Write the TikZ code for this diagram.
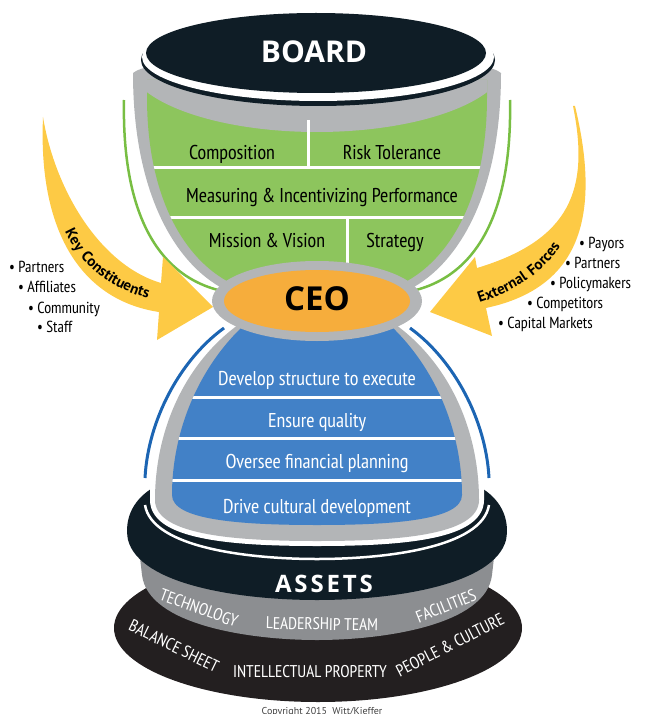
\documentclass[tikz,border=0pt]{standalone}
\usepackage{fontspec}
\setmainfont{PT Sans Narrow}
\newfontfamily\headfont{Open Sans}
\newfontfamily\assetsfont[LetterSpace=12]{Open Sans}
\newfontfamily\arrowfont[LetterSpace=10]{PT Sans}
\newfontfamily\notefont{PT Sans}
\usetikzlibrary{decorations.text}
\definecolor{navy}{HTML}{0F1D26}
\definecolor{baseblack}{HTML}{231F20}
\definecolor{bandgray}{HTML}{8C8E91}
\definecolor{cupgray}{HTML}{B3B5B7}
\definecolor{cupgreen}{HTML}{8DC55D}
\definecolor{cupblue}{HTML}{4281C7}
\definecolor{greenline}{HTML}{78BE43}
\definecolor{blueline}{HTML}{1C65B3}
\definecolor{ceoorange}{HTML}{F6AD3C}
\definecolor{arrowyellow}{HTML}{FDCA45}
\begin{document}
\begin{tikzpicture}[x=1pt, y=-1pt, inner sep=0pt,
   greenrow/.style={anchor=base, text=black, font=\fontsize{20}{22}\selectfont},
   bluerow/.style={anchor=base, text=white, font=\fontsize{20}{22}\selectfont},
   bulletitem/.style={anchor=base west, text=black, font=\fontsize{16}{18}\selectfont},
   assetitem/.style={text=white, font=\fontsize{17}{18}\selectfont},
   rowline/.style={white, line width=3pt},
   arrowtext/.style={decorate, decoration={text along path, text align=center,
     text={|\arrowfont\bfseries\fontsize{15}{15}\selectfont|#1}}}
   ]
   \useasboundingbox (0,0) rectangle (645,714);

   % thin outlines beside the cups
   \draw[greenline, line width=2.5pt] (124,100) .. controls (122,200) and (150,272) .. (218,290);
   \draw[greenline, line width=2.5pt] (510,100) .. controls (512,200) and (484,272) .. (416,290);
   \draw[blueline, line width=3pt] (224,328) .. controls (180,360) and (148,420) .. (145,478);
   \draw[blueline, line width=3pt] (410,328) .. controls (454,360) and (486,420) .. (489,478);

   % base
   \fill[baseblack] (318,628) ellipse (204 and 74);
   \fill[bandgray] (138,540) -- (142,575) .. controls (148,625) and (250,640) .. (317,640)
      .. controls (384,640) and (486,625) .. (492,575) -- (496,540) -- cycle;
   \fill[navy] (160,484) .. controls (132,497) and (124,520) .. (128,540)
      .. controls (140,585) and (240,600) .. (317,600) .. controls (394,600) and (494,585) .. (506,540)
      .. controls (510,520) and (502,497) .. (474,484) -- cycle;
   \draw[white, line width=2.5pt] (145,505) .. controls (152,548) and (250,559) .. (317,559)
      .. controls (384,559) and (482,548) .. (489,505);
   \draw[white, line width=10pt] (155,470) -- (155,500) .. controls (155,536) and (240,541) .. (317,541)
      .. controls (394,541) and (479,536) .. (479,500) -- (479,470);

   % lower cup
   \fill[cupgray] (245,320) .. controls (185,360) and (155,430) .. (155,500)
      .. controls (155,536) and (240,541) .. (317,541) .. controls (394,541) and (479,536) .. (479,500)
      .. controls (479,430) and (449,360) .. (389,320) -- cycle;
   \begin{scope}
     \clip (252,318) .. controls (200,362) and (172,430) .. (172,495)
        .. controls (172,520) and (240,525) .. (317,525) .. controls (394,525) and (462,520) .. (462,495)
        .. controls (462,430) and (434,362) .. (382,318) -- cycle;
     \fill[cupblue] (150,300) rectangle (490,540);
     \foreach \y in {397,438,480} \draw[rowline] (150,\y) -- (490,\y);
   \end{scope}
   \node[bluerow] (develop) at (317,385) {Develop structure to execute};
   \node[bluerow] (quality) at (317,427) {Ensure quality};
   \node[bluerow] (finance) at (317,468) {Oversee financial planning};
   \node[bluerow] (culture) at (317,513) {Drive cultural development};

   % upper cup
   \fill[cupgray] (133,73) .. controls (133,200) and (180,270) .. (230,292) -- (404,292)
      .. controls (454,270) and (501,200) .. (501,73) .. controls (476,50) and (158,50) .. (133,73) -- cycle;
   \begin{scope}
     \clip (147,80) -- (147,97) .. controls (147,205) and (190,265) .. (235,285) -- (399,285)
        .. controls (444,265) and (487,205) .. (487,97) -- (487,80) -- cycle;
     \fill[cupgreen] (140,60) rectangle (495,300);
     \fill[cupgray] (317,60) ellipse (190 and 72);
     \foreach \y in {168,217} \draw[rowline] (140,\y) -- (495,\y);
     \draw[rowline] (308,120) -- (308,168);
     \draw[rowline] (347,217) -- (347,300);
   \end{scope}
   \node[greenrow] (composition) at (232,160) {Composition};
   \node[greenrow] (risk) at (392,160) {Risk Tolerance};
   \node[greenrow] (measuring) at (322,202) {Measuring \& Incentivizing Performance};
   \node[greenrow] (mission) at (267,247) {Mission \& Vision};
   \node[greenrow] (strategy) at (395,247) {Strategy};

   % board
   \fill[navy] (318,60) ellipse (177 and 46);
   \fill[white] (318,57) ellipse (176 and 44);
   \fill[navy] (316,53) ellipse (170 and 40);
   \node[anchor=base, text=white, font=\headfont\bfseries\fontsize{30}{30}\selectfont] (board) at (314,63) {BOARD};

   % ceo
   \fill[cupgray] (317,301) ellipse (105 and 40);
   \fill[ceoorange] (317,301) ellipse (93 and 31);
   \node[anchor=base, text=black, font=\headfont\bfseries\fontsize{33}{33}\selectfont] (ceo) at (317,310) {CEO};

   % arrows
   \fill[arrowyellow] (43,117) .. controls (55,190) and (100,265) .. (161,283) -- (163,257) -- (213,307)
      -- (157,340) -- (159,312) .. controls (80,300) and (38,230) .. (43,117) -- cycle;
   \fill[arrowyellow] (573,106) .. controls (590,190) and (570,240) .. (477,268) -- (475,257) -- (430,312)
      -- (492,336) -- (486,308) .. controls (570,290) and (605,230) .. (575,106) -- cycle;
   \path[arrowtext={Key Constituents}] (56,205) .. controls (70,262) and (110,295) .. (175,304);
   \path[arrowtext={External Forces}] (452,310) .. controls (510,298) and (557,270) .. (572,220);

   % lists
   \node[bulletitem] (partnersl) at (9,272) {\textbullet\ Partners};
   \node[bulletitem] (affiliates) at (18,292) {\textbullet\ Affiliates};
   \node[bulletitem] (community) at (28,313) {\textbullet\ Community};
   \node[bulletitem] (staff) at (37,332) {\textbullet\ Staff};
   \node[bulletitem] (payors) at (579,248) {\textbullet\ Payors};
   \node[bulletitem] (partnersr) at (565,268) {\textbullet\ Partners};
   \node[bulletitem] (policy) at (550,288) {\textbullet\ Policymakers};
   \node[bulletitem] (competitors) at (527,308) {\textbullet\ Competitors};
   \node[bulletitem] (capital) at (498,328) {\textbullet\ Capital Markets};

   % assets
   \node[anchor=base, text=white, font=\assetsfont\bfseries\fontsize{24}{24}\selectfont] (assets) at (324,592) {ASSETS};
   \node[assetitem, rotate=-20] (technology) at (199,608) {TECHNOLOGY};
   \node[assetitem, rotate=-1] (leadership) at (322,624) {LEADERSHIP TEAM};
   \node[assetitem, rotate=22] (facilities) at (446,606) {FACILITIES};
   \node[assetitem, rotate=-26] (balance) at (174,646) {BALANCE SHEET};
   \node[assetitem] (property) at (310,672) {INTELLECTUAL PROPERTY};
   \node[assetitem, rotate=27] (people) at (450,645) {PEOPLE \& CULTURE};
   \node[anchor=north, text=black!75, font=\notefont\fontsize{10}{10}\selectfont] (copyright) at (322,707) {Copyright 2015\ \ Witt/Kieffer};
\end{tikzpicture}
\end{document}
